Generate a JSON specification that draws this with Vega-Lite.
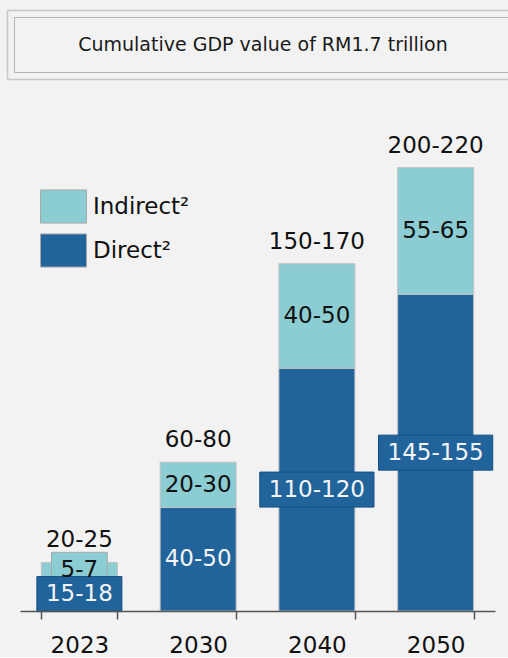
{
  "$schema": "https://vega.github.io/schema/vega-lite/v6.json",
  "background": "#f2f2f2",
  "padding": {"left": 7, "top": 10, "right": 0, "bottom": 0},
  "spacing": 21,
  "center": true,
  "datasets": {
    "gdp": [
      {"year": "2023", "type": "Direct", "value": 16, "label": "15-18", "totalLabel": "20-25"},
      {"year": "2023", "type": "Indirect", "value": 7, "label": "5-7", "totalLabel": "20-25"},
      {"year": "2030", "type": "Direct", "value": 49, "label": "40-50", "totalLabel": "60-80"},
      {"year": "2030", "type": "Indirect", "value": 21.5, "label": "20-30", "totalLabel": "60-80"},
      {"year": "2040", "type": "Direct", "value": 115, "label": "110-120", "totalLabel": "150-170"},
      {"year": "2040", "type": "Indirect", "value": 49.5, "label": "40-50", "totalLabel": "150-170"},
      {"year": "2050", "type": "Direct", "value": 150, "label": "145-155", "totalLabel": "200-220"},
      {"year": "2050", "type": "Indirect", "value": 60, "label": "55-65", "totalLabel": "200-220"}
    ],
    "heading": [
      {"title": "Cumulative GDP value of RM1.7 trillion"}
    ]
  },
  "vconcat": [
    {
      "width": 501,
      "height": 69,
      "data": {"name": "heading"},
      "resolve": {
        "scale": {"x": "independent", "y": "independent"},
        "axis": {"x": "independent", "y": "independent"}
      },
      "layer": [
        {
          "mark": {"type": "text", "fontSize": 19, "font": "DejaVu Sans", "dx": 5.5, "color": "#1a1a1a", "baseline": "middle", "align": "center"},
          "encoding": {
            "x": {"datum": 0, "type": "quantitative", "scale": {"domain": [-1, 1], "nice": false},
                  "axis": {"orient": "top", "offset": 0, "labels": false, "ticks": false, "title": null, "grid": false, "domainColor": "#c6c6c6", "domainWidth": 1.5, "minExtent": 0, "maxExtent": 0}},
            "y": {"datum": 0, "type": "quantitative", "scale": {"domain": [-1, 1], "nice": false},
                  "axis": {"orient": "left", "offset": 0, "labels": false, "ticks": false, "title": null, "grid": false, "domainColor": "#c6c6c6", "domainWidth": 1.5, "minExtent": 0, "maxExtent": 0}},
            "text": {"field": "title"}
          }
        },
        {
          "mark": {"type": "text", "opacity": 0},
          "encoding": {
            "x": {"datum": 0, "type": "quantitative", "scale": {"domain": [-1, 1], "nice": false},
                  "axis": {"orient": "bottom", "offset": 0, "labels": false, "ticks": false, "title": null, "grid": false, "domainColor": "#c6c6c6", "domainWidth": 1.5, "minExtent": 0, "maxExtent": 0}},
            "y": {"datum": 0, "type": "quantitative", "scale": {"domain": [-1, 1], "nice": false},
                  "axis": {"orient": "left", "offset": -7, "labels": false, "ticks": false, "title": null, "grid": false, "domainColor": "#b4b4b4", "domainWidth": 1, "domainDash": [0, 7, 55, 1000], "minExtent": 0, "maxExtent": 0}},
            "text": {"field": "title"}
          }
        },
        {
          "mark": {"type": "text", "opacity": 0},
          "encoding": {
            "x": {"datum": 0, "type": "quantitative", "scale": {"domain": [-1, 1], "nice": false},
                  "axis": {"orient": "top", "offset": -7, "labels": false, "ticks": false, "title": null, "grid": false, "domainColor": "#b4b4b4", "domainWidth": 1, "domainDash": [0, 7, 2000], "minExtent": 0, "maxExtent": 0}},
            "y": {"datum": 0, "type": "quantitative", "scale": {"domain": [-1, 1], "nice": false}, "axis": null},
            "text": {"field": "title"}
          }
        },
        {
          "mark": {"type": "text", "opacity": 0},
          "encoding": {
            "x": {"datum": 0, "type": "quantitative", "scale": {"domain": [-1, 1], "nice": false},
                  "axis": {"orient": "bottom", "offset": -7, "labels": false, "ticks": false, "title": null, "grid": false, "domainColor": "#b4b4b4", "domainWidth": 1, "domainDash": [0, 7, 2000], "minExtent": 0, "maxExtent": 0}},
            "y": {"datum": 0, "type": "quantitative", "scale": {"domain": [-1, 1], "nice": false}, "axis": null},
            "text": {"field": "title"}
          }
        }
      ]
    },
    {
      "width": 475,
      "height": 511,
      "data": {"name": "gdp"},
      "transform": [
        {"stack": "value", "groupby": ["year"], "sort": [{"field": "type", "order": "ascending"}], "as": ["v0", "v1"]}
      ],
      "encoding": {
        "x": {
          "field": "year",
          "type": "ordinal",
          "scale": {"paddingInner": 0.36, "paddingOuter": 0.18},
          "axis": {
            "title": null,
            "labelAngle": 0,
            "tickBand": "extent",
            "domainColor": "#555555",
            "domainWidth": 1.5,
            "tickColor": "#555555",
            "tickWidth": 1.5,
            "tickSize": 8,
            "labelFontSize": 23,
            "labelFont": "DejaVu Sans",
            "labelColor": "#111111",
            "labelPadding": 15,
            "zindex": 1
          }
        }
      },
      "layer": [
        {
          "mark": {"type": "bar", "stroke": "#c2c2c2", "strokeWidth": 1},
          "encoding": {
            "y": {"field": "v0", "type": "quantitative", "scale": {"domain": [0, 242], "nice": false}, "axis": null},
            "y2": {"field": "v1"},
            "color": {
              "field": "type",
              "type": "nominal",
              "scale": {"domain": ["Indirect", "Direct"], "range": ["#8ccdd3", "#21649c"]},
              "legend": {
                "title": null,
                "orient": "none",
                "legendX": 33,
                "legendY": 173,
                "padding": 0,
                "symbolType": "M-1,-0.72H1V0.72H-1Z",
                "symbolSize": 2116,
                "symbolStrokeColor": "#9a9a9a",
                "symbolStrokeWidth": 1,
                "symbolOpacity": 1,
                "labelFontSize": 23,
                "labelFont": "DejaVu Sans",
                "labelColor": "#111111",
                "labelOffset": 6,
                "rowPadding": 1,
                "labelExpr": "datum.label + '²'"
              }
            }
          }
        },
        {
          "transform": [
            {"fold": ["v0", "v1"], "as": ["edge", "pos"]},
            {"aggregate": [{"op": "mean", "field": "pos", "as": "mid"}], "groupby": ["year", "type", "label", "value"]},
            {"filter": "datum.value < 20 || length(datum.label) > 6"}
          ],
          "mark": {"type": "rect", "width": {"expr": "14.6*length(datum.label)+12"}, "height": 35, "strokeWidth": 1},
          "encoding": {
            "y": {"field": "mid", "type": "quantitative"},
            "color": {"field": "type", "type": "nominal"},
            "stroke": {"condition": {"test": "datum.type === 'Direct'", "value": "#174e80"}, "value": "#a8a8a8"},
            "order": {"field": "type", "sort": "descending"}
          }
        },
        {
          "transform": [
            {"fold": ["v0", "v1"], "as": ["edge", "pos"]},
            {"aggregate": [{"op": "mean", "field": "pos", "as": "mid"}], "groupby": ["year", "type", "label", "value"]}
          ],
          "mark": {"type": "text", "fontSize": 23, "font": "DejaVu Sans", "baseline": "middle", "align": "center"},
          "encoding": {
            "y": {"field": "mid", "type": "quantitative"},
            "text": {"field": "label"},
            "color": {"condition": {"test": "datum.type === 'Direct'", "value": "#f4f4f4"}, "value": "#111111"}
          }
        },
        {
          "transform": [
            {"aggregate": [{"op": "sum", "field": "value", "as": "total"}], "groupby": ["year", "totalLabel"]}
          ],
          "mark": {"type": "text", "fontSize": 23, "font": "DejaVu Sans", "baseline": "middle", "align": "center", "dy": -22, "color": "#111111"},
          "encoding": {
            "y": {"field": "total", "type": "quantitative"},
            "text": {"field": "totalLabel"}
          }
        }
      ]
    }
  ],
  "config": {
    "font": "DejaVu Sans",
    "view": {"stroke": null}
  }
}
